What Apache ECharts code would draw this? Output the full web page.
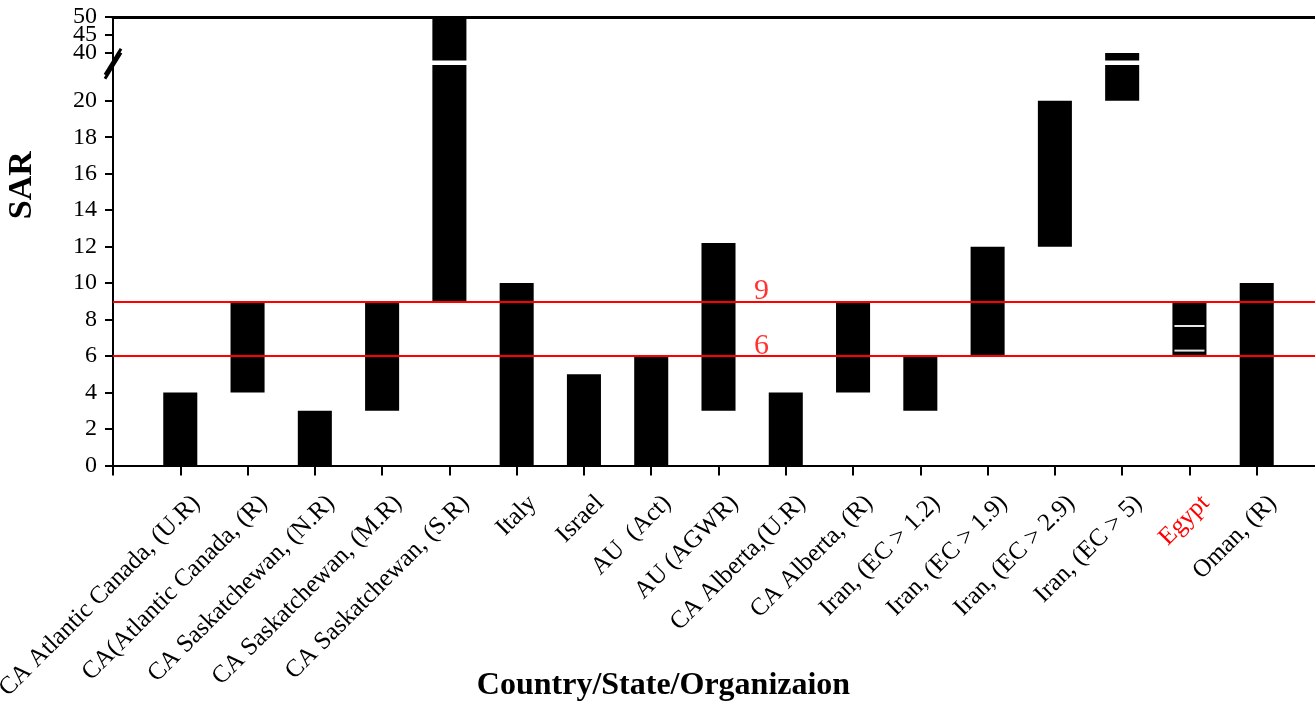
<!DOCTYPE html>
<html><head><meta charset="utf-8">
<script src="https://cdn.jsdelivr.net/npm/echarts@6/dist/echarts.min.js"></script>
<style>html,body{margin:0;padding:0;background:#fff}#c{width:1315px;height:702px}</style>
</head><body><div id="c"></div>
<script>
// ---------- data ----------
const categories = ['CA Atlantic Canada, (U.R)', 'CA(Atlantic Canada, (R)', 'CA Saskatchewan, (N.R)', 'CA Saskatchewan, (M.R)', 'CA Saskatchewan, (S.R)', 'Italy', 'Israel', 'AU  (Act)', 'AU (AGWR)', 'CA Alberta,(U.R)', 'CA Alberta, (R)', 'Iran, (EC > 1.2)', 'Iran, (EC > 1.9)', 'Iran, (EC > 2.9)', 'Iran, (EC > 5)', 'Egypt', 'Oman, (R)'];
const lowValues  = [0, 4, 0, 3, 9, 0, 0, 0, 3, 0, 4, 3, 6, 12, 20, 6, 0];
const highValues = [4, 9, 3, 9, 50, 10, 5, 6, 12.2, 4, 9, 6, 12, 20, 40, 9, 10];
const thresholds = [9, 6];
const thresholdLabelPos = 9.64;      // category position of the threshold labels
const egyptMarks = [7.65, 6.3];
const yTickLabels = [0, 2, 4, 6, 8, 10, 12, 14, 16, 18, 20, 40, 45, 50];

// ---------- broken axis scale ----------
const BREAK_LOW = 20, BREAK_HIGH = 40, TOP = 50;
const GAP = 2.617, UPPER_SCALE = 0.1975;
function t(v) {
  if (v <= BREAK_LOW) return v;
  if (v >= BREAK_HIGH) return BREAK_LOW + GAP + (v - BREAK_HIGH) * UPPER_SCALE;
  return BREAK_LOW + (v - BREAK_LOW) / (BREAK_HIGH - BREAK_LOW) * GAP;
}
const Y_MAX = t(TOP);
const GAP_BAND = [21.96, 22.21];
const FONT = '"Liberation Serif", "Times New Roman", serif';
const yTickPos = yTickLabels.map(t);
// labels are split over two axes so that tightly packed top labels are all kept
const yLabelsA = yTickLabels.filter((v, i) => i % 2 === 0 || v <= BREAK_LOW);
const yLabelsB = yTickLabels.filter(v => yLabelsA.indexOf(v) < 0);

function yLabel(val) {
  let best = 0, bd = Infinity;
  yTickPos.forEach((p, i) => { const d = Math.abs(p - val); if (d < bd) { bd = d; best = i; } });
  return '{y|' + yTickLabels[best] + '}';
}
const yLabelStyle = { fontFamily: FONT, fontSize: 24, lineHeight: 14, color: '#000' };

const barData = categories.map((c, i) => [i + 1, lowValues[i], highValues[i]]);
const egyptIdx = categories.indexOf('Egypt') + 1;
const egyptData = egyptMarks.map(v => [egyptIdx, v]);
const thrLabelData = thresholds.map(v => [thresholdLabelPos, t(v), String(v)]);

const chart = echarts.init(document.getElementById('c'));
const xMax = categories.length + 1;

function catLabel(v) {
  const name = categories[v - 1];
  if (!name) return '';
  return name === 'Egypt' ? '{red|' + name + '}' : '{n|' + name + '}';
}

chart.setOption({
  animation: false,
  backgroundColor: '#fff',
  grid: [
    { left: 113, right: -9, top: 17, bottom: 236.5, outerBoundsMode: 'none', containLabel: false },
    { left: 129, right: -25, top: 17, bottom: 236.5, outerBoundsMode: 'none', containLabel: false }
  ],
  xAxis: [
    {
      type: 'value', gridIndex: 0, position: 'bottom', min: 0, max: xMax, interval: 1,
      axisLine: { show: true, onZero: false, lineStyle: { color: '#000', width: 2 } },
      axisTick: { show: true, length: 10, lineStyle: { color: '#000', width: 2 } },
      axisLabel: { show: false },
      splitLine: { show: false },
      name: 'Country/State/Organizaion', nameLocation: 'middle', nameGap: 204, nameMoveOverlap: false,
      nameTextStyle: { fontFamily: FONT, fontWeight: 'bold', fontSize: 32, color: '#000', padding: [0, 110, 0, 0] }
    },
    {
      type: 'value', gridIndex: 1, position: 'bottom', min: 0, max: xMax, interval: 1,
      axisLine: { show: false, onZero: false }, axisTick: { show: false }, splitLine: { show: false },
      axisLabel: {
        show: true, rotate: 45, margin: 34, formatter: catLabel, hideOverlap: false,
        showMinLabel: true, showMaxLabel: true,
        rich: {
          n: { fontFamily: FONT, fontSize: 25, color: '#000' },
          red: { fontFamily: FONT, fontSize: 25, color: '#ff0000' }
        }
      }
    },
    {
      type: 'value', gridIndex: 0, position: 'top', min: 0, max: xMax,
      axisLine: { show: true, onZero: false, lineStyle: { color: '#000', width: 3 } },
      axisTick: { show: false }, axisLabel: { show: false }, splitLine: { show: false }
    }
  ],
  yAxis: [
    {
      type: 'value', gridIndex: 0, position: 'left', min: 0, max: Y_MAX,
      axisLine: { show: true, onZero: false, lineStyle: { color: '#000', width: 2 } },
      axisTick: { show: true, length: 8, lineStyle: { color: '#000', width: 2 }, customValues: yTickPos },
      axisLabel: {
        show: true, margin: 16, customValues: yLabelsA.map(t), showMaxLabel: true, showMinLabel: true,
        hideOverlap: false, formatter: yLabel, rich: { y: yLabelStyle }
      },
      splitLine: { show: false },
      name: 'SAR', nameLocation: 'middle', nameGap: 74, nameMoveOverlap: false,
      nameTextStyle: { fontFamily: FONT, fontWeight: 'bold', fontSize: 34, color: '#000', padding: [0, 0, 0, 112] }
    },
    { type: 'value', gridIndex: 1, show: false, min: 0, max: 1 },
    {
      type: 'value', gridIndex: 0, position: 'left', offset: 0, min: 0, max: Y_MAX,
      axisLine: { show: false, onZero: false }, axisTick: { show: false }, splitLine: { show: false },
      axisLabel: {
        show: true, margin: 16, customValues: yLabelsB.map(t), showMaxLabel: true, showMinLabel: true,
        hideOverlap: false, formatter: yLabel, rich: { y: yLabelStyle }
      }
    }
  ],
  series: [
    {
      type: 'line', xAxisIndex: 0, yAxisIndex: 0, data: [], z: 1, silent: true,
      markLine: {
        symbol: 'none', silent: true, animation: false,
        lineStyle: { color: '#ff0000', width: 2, type: 'solid' },
        label: { show: false },
        data: thresholds.map(v => ({ yAxis: t(v) }))
      }
    },
    {
      type: 'custom', xAxisIndex: 0, yAxisIndex: 0, z: 3, clip: false,
      data: barData,
      renderItem(params, api) {
        const x = api.value(0), lo = t(api.value(1)), hi = t(api.value(2));
        const w = api.size([1, 0])[0] * 0.506;
        const segs = (lo < GAP_BAND[0] && hi > GAP_BAND[1]) ? [[lo, GAP_BAND[0]], [GAP_BAND[1], hi]] : [[lo, hi]];
        return {
          type: 'group',
          children: segs.map(s => {
            const a = api.coord([x, s[0]]), b = api.coord([x, s[1]]);
            return { type: 'rect', shape: { x: a[0] - w / 2, y: b[1], width: w, height: a[1] - b[1] }, style: { fill: '#000' } };
          })
        };
      }
    },
    {
      type: 'custom', xAxisIndex: 0, yAxisIndex: 0, z: 4,
      data: egyptData,
      renderItem(params, api) {
        const x = api.value(0), v = t(api.value(1));
        const w = api.size([1, 0])[0] * 0.506;
        const p = api.coord([x, v]);
        return { type: 'line', shape: { x1: p[0] - w / 2 + 2, y1: p[1], x2: p[0] + w / 2 - 2, y2: p[1] }, style: { stroke: '#e6e6e6', lineWidth: 2 } };
      }
    },
    {
      type: 'scatter', xAxisIndex: 0, yAxisIndex: 0, z: 5, symbolSize: 0, silent: true,
      data: thrLabelData,
      label: {
        show: true, position: 'top', distance: -5, formatter: p => p.data[2],
        fontFamily: FONT, fontSize: 30, color: '#ff0000'
      }
    }
  ]
});

// axis-break marker on the y axis
const bx = chart.convertToPixel({ xAxisIndex: 0 }, 0);
const by = chart.convertToPixel({ yAxisIndex: 0 }, (GAP_BAND[0] + GAP_BAND[1]) / 2);
chart.setOption({
  graphic: [
    { type: 'line', shape: { x1: bx - 8, y1: by + 12, x2: bx + 8, y2: by - 14 }, style: { stroke: '#000', lineWidth: 3 }, z: 10 },
    { type: 'line', shape: { x1: bx - 8, y1: by + 16, x2: bx + 8, y2: by - 10 }, style: { stroke: '#000', lineWidth: 3 }, z: 10 }
  ]
});
</script>
</body></html>
